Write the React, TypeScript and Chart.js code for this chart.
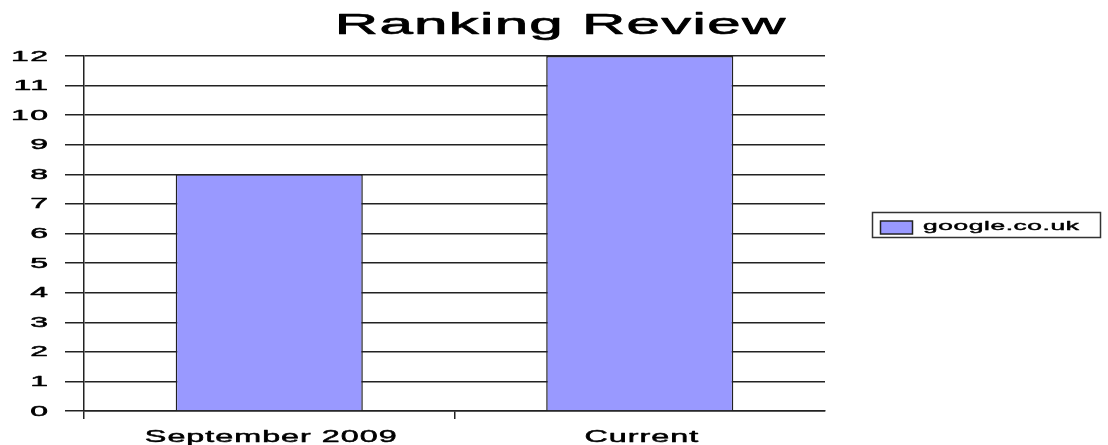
import React, { useEffect, useRef } from "react";
import { Chart, registerables } from "chart.js";

Chart.register(...registerables);

const TITLE = "Ranking Review";
const CATEGORIES = ["September 2009", "Current"];
const SERIES_LABEL = "google.co.uk";
const SERIES_VALUES = [8, 12];
const Y_MIN = 0;
const Y_MAX = 12;
const Y_STEP = 1;

const BAR_COLOR = "#9999ff";
const LINE_COLOR = "#222222";
const TEXT_COLOR = "#000000";
const FONT = "'Liberation Sans', Arial, sans-serif";

function drawStretched(
  ctx: CanvasRenderingContext2D,
  text: string,
  x: number,
  y: number,
  size: number,
  sx: number,
  spacing: number,
  align: "left" | "center" | "right",
  baseline: CanvasTextBaseline,
  weight: number
) {
  ctx.save();
  ctx.font = `${size}px ${FONT}`;
  (ctx as any).letterSpacing = `${spacing / sx}px`;
  ctx.textAlign = "left";
  ctx.textBaseline = baseline;
  ctx.fillStyle = TEXT_COLOR;
  ctx.strokeStyle = TEXT_COLOR;
  const w = ctx.measureText(text).width * sx - spacing;
  let start = x;
  if (align === "center") start = x - w / 2;
  else if (align === "right") start = x - w;
  ctx.translate(start, y);
  ctx.scale(sx, 1);
  ctx.fillText(text, 0, 0);
  ctx.lineWidth = weight;
  ctx.lineJoin = "round";
  ctx.strokeText(text, 0, 0);
  ctx.restore();
}

const textPlugin = {
  id: "stretchedText",
  afterDraw(chart: any) {
    const ctx: CanvasRenderingContext2D = chart.ctx;
    const area = chart.chartArea;
    const yScale = chart.scales.y;
    const xScale = chart.scales.x;

    // Title
    drawStretched(ctx, TITLE, chart.width / 2 + 6, 33.5, 30, 2.0, 1.3, "center", "alphabetic", 0.7);

    // Y tick labels
    yScale.ticks.forEach((t: any, i: number) => {
      const py = yScale.getPixelForTick(i);
      drawStretched(ctx, String(t.label), area.left - 36, py + 0.5, 14.5, 2.2, 1.5, "right", "middle", 0.5);
    });

    // X tick labels
    xScale.ticks.forEach((t: any, i: number) => {
      const px = xScale.getPixelForTick(i);
      drawStretched(ctx, String(xScale.getLabelForValue(t.value)), px + 1.5, area.bottom + 30.5, 17, 1.9, 1, "center", "alphabetic", 0.5);
    });

    // Legend
    const ds = chart.data.datasets[0];
    const lx = area.right + 47.5;
    const ly = area.top + 156.5;
    ctx.save();
    ctx.fillStyle = "#ffffff";
    ctx.fillRect(lx, ly, 228, 25);
    ctx.strokeStyle = "#333333";
    ctx.lineWidth = 1.5;
    ctx.strokeRect(lx, ly, 228, 25);
    ctx.fillStyle = ds.backgroundColor;
    ctx.fillRect(lx + 8, ly + 8.5, 32, 13);
    ctx.strokeStyle = "#222222";
    ctx.lineWidth = 1.5;
    ctx.strokeRect(lx + 8, ly + 8.5, 32, 13);
    ctx.restore();
    drawStretched(ctx, ds.label, lx + 50.5, ly + 17.5, 13.5, 1.95, 0.6, "left", "alphabetic", 0.45);
  },
};

export default function App() {
  const canvasRef = useRef<HTMLCanvasElement | null>(null);

  useEffect(() => {
    const canvas = canvasRef.current;
    if (!canvas) return;
    const chart = new Chart(canvas, {
      type: "bar",
      data: {
        labels: CATEGORIES,
        datasets: [
          {
            label: SERIES_LABEL,
            data: SERIES_VALUES,
            backgroundColor: BAR_COLOR,
            borderColor: LINE_COLOR,
            borderWidth: 1.5,
            barPercentage: 0.505,
            categoryPercentage: 1,
          },
        ],
      },
      options: {
        animation: false,
        responsive: false,
        devicePixelRatio: 1,
        layout: { padding: { left: 65, right: 283, top: 56, bottom: 26 } },
        plugins: {
          legend: { display: false },
          title: { display: false },
          tooltip: { enabled: false },
        },
        scales: {
          x: {
            offset: true,
            ticks: { display: false },
            grid: {
              offset: true,
              drawOnChartArea: false,
              drawTicks: true,
              tickLength: 8,
              lineWidth: 1.5,
              color: (c: any) => (c.type === "tick" ? LINE_COLOR : "rgba(0,0,0,0)"),
            },
            border: { display: true, color: LINE_COLOR, width: 1.5 },
          },
          y: {
            min: Y_MIN,
            max: Y_MAX,
            ticks: { display: false, stepSize: Y_STEP },
            grid: {
              drawTicks: true,
              tickLength: 19,
              lineWidth: 1.5,
              color: LINE_COLOR,
            },
            border: { display: true, color: LINE_COLOR, width: 1.5 },
          },
        },
      },
      plugins: [textPlugin],
    });
    return () => chart.destroy();
  }, []);

  return (
    <div style={{ position: "absolute", left: 0, top: 0, width: 1108, height: 445, background: "#ffffff" }}>
      <canvas ref={canvasRef} width={1108} height={445} />
    </div>
  );
}
